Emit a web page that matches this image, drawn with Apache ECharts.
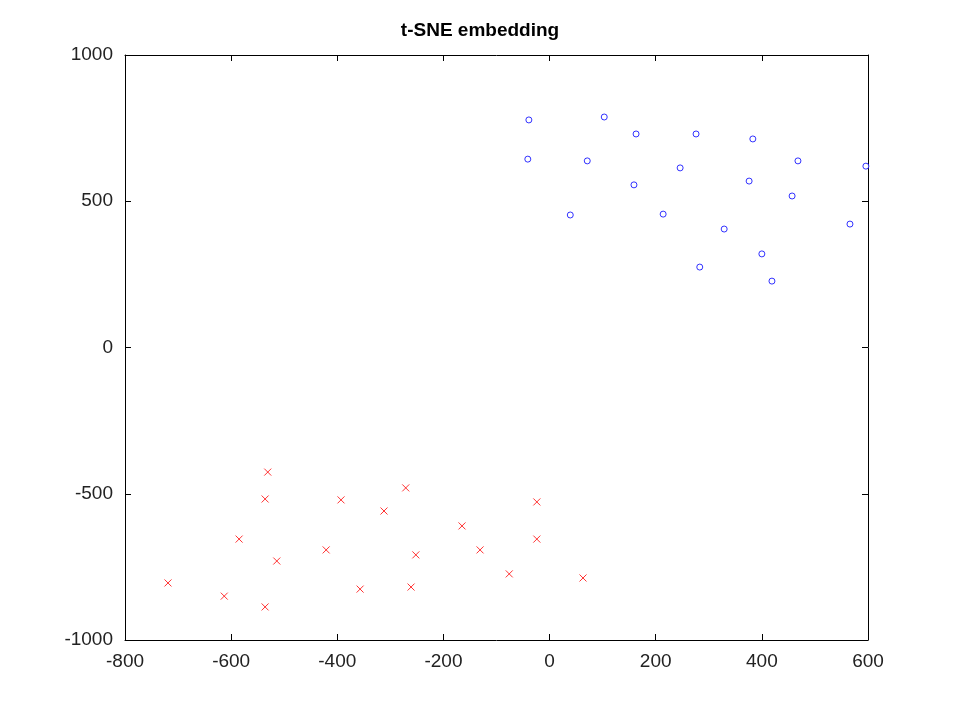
<!DOCTYPE html><html><head><meta charset="utf-8">
<script src="https://cdn.jsdelivr.net/npm/echarts@6/dist/echarts.min.js"></script>
<style>html,body{margin:0;background:#fff}#c{width:960px;height:720px}</style></head><body><div id="c"></div>
<script>
const blueX=[-39,103,163,276,383,-41,71,468,596,246,159,376,457,39,214,566,329,400,283,419];
const blueY=[778,788,730,730,713,644,638,638,620,614,556,569,518,453,456,422,405,320,275,227];
const redX=[-531,-536,-393,-271,-312,-24,-585,-165,-421,-131,-514,-252,-24,-719,-76,63,-613,-357,-261,-536];
const redY=[-426,-518,-521,-480,-559,-528,-655,-610,-692,-692,-730,-709,-655,-805,-774,-788,-850,-826,-819,-887];
const xTicks=[-800,-600,-400,-200,0,200,400,600];
const yTicks=[-1000,-500,0,500,1000];
const zip=(a,b)=>a.map((v,i)=>[v,b[i]]);
const xPath='path://M0,0L10,10M10,0L0,10';
function ax(type,pos,show,ticks){return {type:'value',position:pos,min:ticks[0],max:ticks[ticks.length-1],interval:ticks[1]-ticks[0],
 axisLine:{onZero:false,lineStyle:{color:'#000'}},axisTick:{inside:true,length:6,lineStyle:{color:'#000'}},splitLine:{show:false},
 axisLabel:{show:show,margin:12,color:'#222',fontSize:19,fontFamily:'Liberation Sans',formatter:v=>String(v)}};}
const c=echarts.init(document.getElementById('c'));
c.setOption({animation:false,
 title:{text:'t-SNE embedding',left:'center',top:16,textStyle:{fontSize:19,fontWeight:'bold',color:'#000',fontFamily:'Liberation Sans'}},
 grid:{left:125,right:92,top:55,bottom:80},
 xAxis:[ax('x','bottom',true,xTicks),ax('x','top',false,xTicks)],
 yAxis:[ax('y','left',true,yTicks),ax('y','right',false,yTicks)],
 series:[
  {type:'scatter',data:zip(blueX,blueY),symbol:'circle',symbolSize:6,itemStyle:{color:'#fff',borderColor:'#00f',borderWidth:1}},
  {type:'scatter',data:zip(redX,redY),symbol:xPath,symbolSize:7,itemStyle:{color:'none',borderColor:'#f00',borderWidth:1}}
 ]});
</script></body></html>
